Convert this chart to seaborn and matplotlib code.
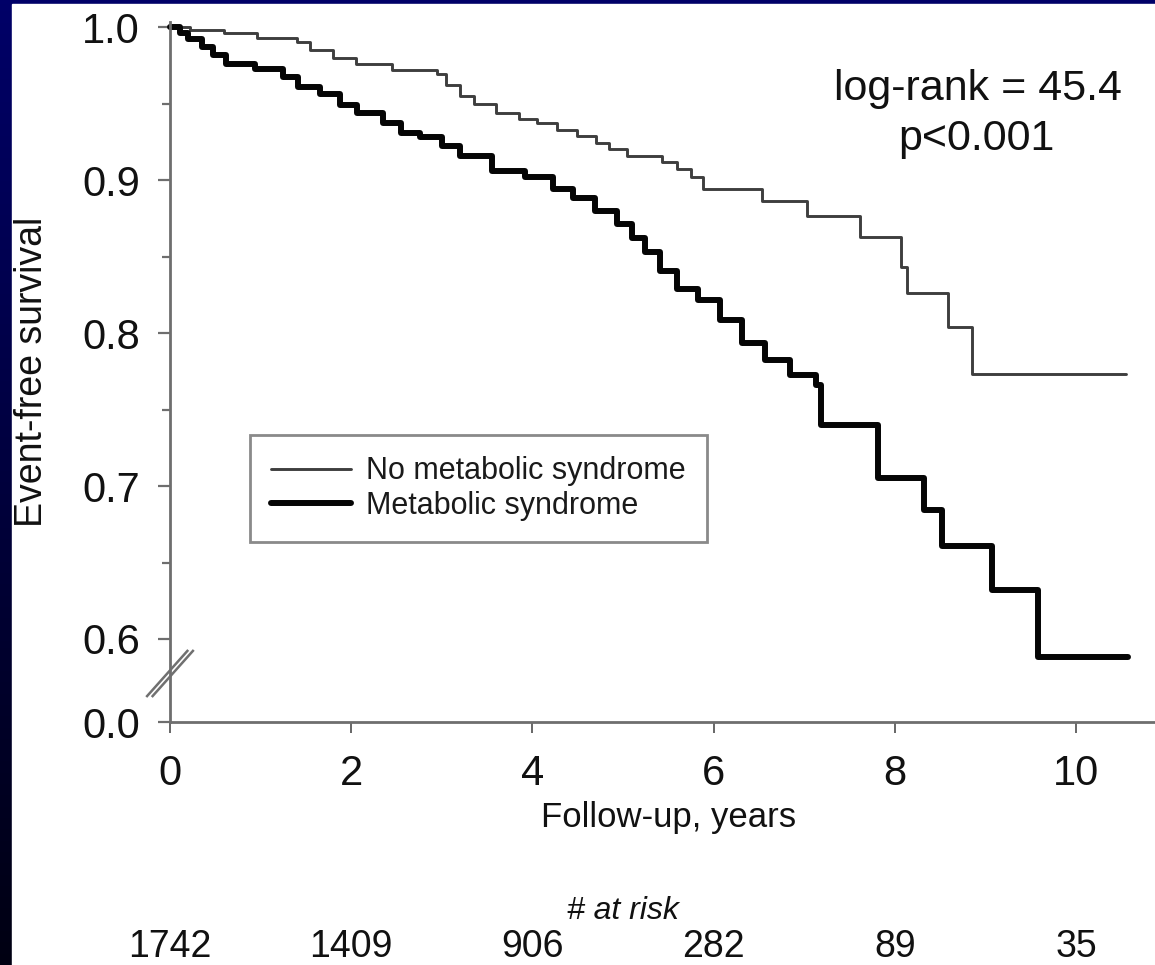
import numpy as np
import pandas as pd
import matplotlib
matplotlib.use("Agg")
import matplotlib.pyplot as plt
import seaborn as sns
from matplotlib.colors import LinearSegmentedColormap
from matplotlib.patches import Rectangle
from matplotlib.lines import Line2D
from matplotlib.transforms import blended_transform_factory

# ---- Kaplan-Meier step data (time in years, event-free survival) ----
time_no_mets = [0.0, 0.22, 0.60, 0.96, 1.40, 1.55, 1.80, 2.05, 2.45, 2.95, 3.05, 3.20,
                3.35, 3.60, 3.85, 4.05, 4.27, 4.49, 4.70, 4.85, 5.04, 5.43, 5.60, 5.75,
                5.88, 6.53, 7.03, 7.62, 8.07, 8.13, 8.59, 8.85, 10.55]
surv_no_mets = [1.000, 0.998, 0.996, 0.993, 0.990, 0.985, 0.980, 0.976, 0.972, 0.969, 0.962, 0.955,
                0.950, 0.944, 0.940, 0.937, 0.933, 0.929, 0.924, 0.920, 0.916, 0.912, 0.907, 0.902,
                0.894, 0.886, 0.8765, 0.863, 0.843, 0.826, 0.804, 0.773, 0.773]

time_mets = [0.0, 0.11, 0.20, 0.35, 0.47, 0.62, 0.94, 1.25, 1.41, 1.66, 1.88, 2.06, 2.35,
             2.55, 2.76, 3.00, 3.20, 3.55, 3.92, 4.23, 4.45, 4.69, 4.93, 5.10, 5.24, 5.41,
             5.60, 5.83, 6.07, 6.31, 6.57, 6.84, 7.13, 7.18, 7.82, 8.32, 8.52, 9.07, 9.58, 10.57]
surv_mets = [1.000, 0.996, 0.992, 0.987, 0.982, 0.976, 0.9725, 0.967, 0.961, 0.956, 0.949, 0.944, 0.937,
             0.931, 0.928, 0.922, 0.916, 0.906, 0.902, 0.894, 0.888, 0.880, 0.871, 0.862, 0.853, 0.8405,
             0.829, 0.8216, 0.8085, 0.7935, 0.7824, 0.7725, 0.766, 0.740, 0.705, 0.684, 0.661, 0.632, 0.588, 0.588]

group_labels = ["No metabolic syndrome", "Metabolic syndrome"]

risk_times = [0, 2, 4, 6, 8, 10]
at_risk = [1742, 1409, 906, 282, 89, 35]

x_ticks = [0, 2, 4, 6, 8, 10]
y_ticks = [0.6, 0.7, 0.8, 0.9, 1.0]
y_tick_labels = ["0.6", "0.7", "0.8", "0.9", "1.0"]
y_zero_label = "0.0"

# ---- styling ----
sns.set_theme(style="ticks")
plt.rcParams["font.family"] = ["Liberation Sans", "DejaVu Sans"]

W, H = 1155, 965
fig = plt.figure(figsize=(W / 100, H / 100), dpi=100)

# slide backdrop: navy gradient with a white panel on top
bg = fig.add_axes([0, 0, 1, 1], zorder=-10)
grad = np.linspace(0, 1, 256).reshape(-1, 1)
navy = LinearSegmentedColormap.from_list("navy", ["#000068", "#000012"])
bg.imshow(grad, aspect="auto", cmap=navy, extent=[0, 1, 0, 1])
bg.add_patch(Rectangle((12 / W, 0), 1 - 12 / W, 1 - 4 / H, color="white"))
bg.set_xlim(0, 1)
bg.set_ylim(0, 1)
bg.axis("off")

# plotting area (pixel geometry converted to figure fractions)
ax_left, ax_right, ax_top, ax_bottom = 170, 1155, 22, 722
ax = fig.add_axes([ax_left / W, (H - ax_bottom) / H,
                   (ax_right - ax_left) / W, (ax_bottom - ax_top) / H])
ax.patch.set_alpha(0)

px_per_unit_y = 1530.0
y_low = 0.6 - (ax_bottom - 639) / px_per_unit_y
y_high = 1.0 + (27 - ax_top) / px_per_unit_y
ax.set_ylim(y_low, y_high)
ax.set_xlim(0, (ax_right - ax_left) / 90.6)

df_no = pd.DataFrame({"time": time_no_mets, "survival": surv_no_mets})
df_ms = pd.DataFrame({"time": time_mets, "survival": surv_mets})

sns.lineplot(data=df_no, x="time", y="survival", ax=ax, estimator=None, sort=False,
             drawstyle="steps-post", color="#3e3e3e", linewidth=2.1, clip_on=False)
sns.lineplot(data=df_ms, x="time", y="survival", ax=ax, estimator=None, sort=False,
             drawstyle="steps-post", color="#050505", linewidth=4.3, clip_on=False)

# axes, ticks
sns.despine(ax=ax, top=True, right=True)
for side in ("left", "bottom"):
    ax.spines[side].set_color("#6e6e6e")
    ax.spines[side].set_linewidth(2.0)

ax.set_xticks(x_ticks)
ax.set_xticklabels([str(t) for t in x_ticks])
ax.set_yticks([y_low] + y_ticks)
ax.set_yticklabels([y_zero_label] + y_tick_labels)
ax.set_yticks([0.65, 0.75, 0.85, 0.95], minor=True)

ax.tick_params(axis="x", which="major", direction="out", length=8, width=1.3,
               color="#5a5a5a", labelsize=30, pad=15, labelcolor="#111111")
ax.tick_params(axis="y", which="major", direction="out", length=8.6, width=1.6,
               color="#6e6e6e", labelsize=30, pad=13, labelcolor="#111111")
ax.tick_params(axis="y", which="minor", direction="out", length=5.5, width=1.6,
               color="#6e6e6e")
ax.set_xlabel("")
ax.set_ylabel("")

# axis break marks on the y axis
for off in (-0.0028, 0.0028):
    ax.plot([-0.0213 + off, 0.0213 + off], [0.0357, 0.1029], transform=ax.transAxes,
            clip_on=False, color="#707070", linewidth=1.8, solid_capstyle="butt")

# axis titles
fig.text(32 / W, 1 - 372 / H, "Event-free survival", rotation=90, ha="center",
         va="center", fontsize=27, color="#111111")
fig.text(669 / W, 1 - 827 / H, "Follow-up, years", ha="center", va="baseline",
         fontsize=25, color="#111111")

# statistics annotation
fig.text(978 / W, 1 - 100 / H, "log-rank = 45.4", ha="center", va="baseline",
         fontsize=31, color="#111111")
fig.text(976 / W, 1 - 150 / H, "p<0.001", ha="center", va="baseline",
         fontsize=31, color="#111111")

# legend
handles = [Line2D([], [], color="#3e3e3e", linewidth=2.1),
           Line2D([], [], color="#050505", linewidth=4.3)]
leg = ax.legend(handles, group_labels, loc="upper left",
                bbox_to_anchor=(250 / W, 1 - 435 / H), bbox_transform=fig.transFigure,
                frameon=True, fancybox=False, framealpha=1, edgecolor="#8a8a8a",
                fontsize=22, handlelength=2.6, handletextpad=0.5, borderpad=0.7,
                labelspacing=0.15, borderaxespad=0)
leg.get_frame().set_linewidth(2.0)
for txt in leg.get_texts():
    txt.set_color("#1a1a1a")

# numbers at risk under the time axis
trans = blended_transform_factory(ax.transData, fig.transFigure)
ax.text(5, 1 - 919 / H, "# at risk", transform=trans, ha="center", va="baseline",
        fontsize=23, style="italic", color="#111111")
for t, n in zip(risk_times, at_risk):
    ax.text(t, 1 - 957 / H, str(n), transform=trans, ha="center", va="baseline",
            fontsize=27, color="#111111", clip_on=False)

fig.savefig("out.png", dpi=100)
